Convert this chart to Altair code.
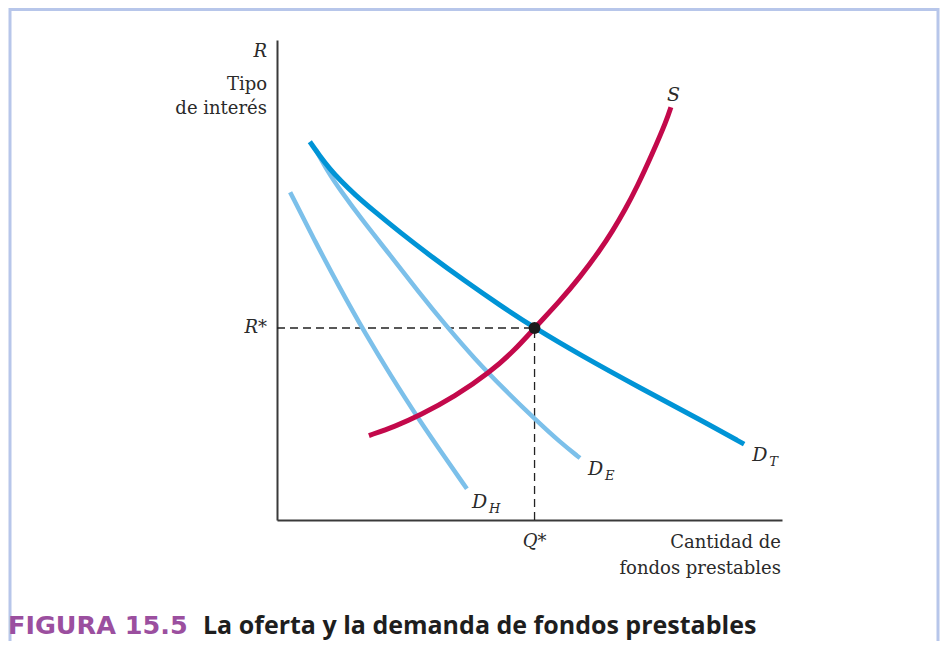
import altair as alt
import pandas as pd

# ---- data, Q and R in 0..100 units ----
Q_STAR = 51.0
R_STAR = 40.0

dt_q = [6.5, 8.5, 10.5, 12.5, 15.4, 19.4, 24.4, 30.3, 37.2, 44.2, 51.0, 60.0, 71.9, 83.8, 92.5]
dt_r = [78.8, 75.8, 73.1, 70.8, 67.8, 64.2, 59.9, 55.1, 49.8, 44.7, 40.0, 34.4, 27.5, 20.9, 15.8]

de_q = [7.7, 10.1, 12.5, 17.0, 22.4, 27.9, 33.7, 39.2, 45.1, 51.1, 56.0, 60.0]
de_r = [77.1, 72.5, 68.75, 62.3, 55.2, 47.7, 40.2, 33.5, 27.1, 21.0, 16.25, 12.9]

dh_q = [2.6, 7.5, 12.5, 17.4, 22.4, 28.3, 33.3, 37.6]
dh_r = [68.3, 58.1, 48.2, 39.0, 30.3, 20.6, 13.0, 6.5]

s_q = [18.2, 23.4, 28.3, 35.2, 42.2, 47.1, 51.0, 56.0, 60.0, 64.0, 66.5, 68.9, 71.3, 74.3, 77.2, 78.0]
s_r = [17.6, 19.5, 21.8, 25.7, 30.8, 35.4, 40.0, 45.6, 50.6, 56.25, 60.3, 64.6, 69.4, 76.25, 83.4, 86.0]

SERIF = "DejaVu Serif"
SANS = "Open Sans"
INK = "#2a2a2a"

xs = alt.Scale(domain=[0, 100], nice=False, zero=False)
ys = alt.Scale(domain=[0, 100], nice=False, zero=False)
axis = alt.Axis(ticks=False, labels=False, grid=False, title=None,
                domainColor="#3a3a3a", domainWidth=2)


def X(f):
    return alt.X(f, scale=xs, axis=axis)


def Y(f):
    return alt.Y(f, scale=ys, axis=axis)


def curve(q, r, color, width):
    df = pd.DataFrame({"q": q, "r": r})
    return alt.Chart(df).mark_line(
        color=color, strokeWidth=width, interpolate="basis", strokeCap="butt"
    ).encode(x=X("q:Q"), y=Y("r:Q"))


one = pd.DataFrame({"q0": [0.0], "r0": [0.0], "q": [Q_STAR], "r": [R_STAR]})


def text_at(txt, x, y, size=18, italic=False, align="right", baseline="middle",
            font=SERIF, color=INK, weight="normal"):
    return alt.Chart(one).mark_text(
        text=txt, font=font, fontSize=size, align=align, baseline=baseline,
        fontStyle="italic" if italic else "normal", color=color, fontWeight=weight,
    ).encode(x=alt.value(x), y=alt.value(y))


def end_label(q, r, main, sub, dx, dy):
    df = pd.DataFrame({"q": [q[-1]], "r": [r[-1]]})
    base = alt.Chart(df).encode(x=X("q:Q"), y=Y("r:Q"))
    layers = [base.mark_text(text=main, font=SERIF, fontSize=19, fontStyle="italic",
                             align="left", baseline="middle", dx=dx, dy=dy, color=INK)]
    if sub:
        layers.append(base.mark_text(text=sub, font=SERIF, fontSize=13, fontStyle="italic",
                                     align="left", baseline="middle", dx=dx + 17, dy=dy + 7,
                                     color=INK))
    return layers


base_pt = alt.Chart(one).encode(x=X("q:Q"), y=Y("r:Q"))

h_dash = alt.Chart(one).mark_rule(color="#222222", strokeWidth=1.3, strokeDash=[8, 5]).encode(
    x=X("q0:Q"), x2="q:Q", y=Y("r:Q"))
v_dash = alt.Chart(one).mark_rule(color="#222222", strokeWidth=1.3, strokeDash=[8, 5]).encode(
    y=Y("r0:Q"), y2="r:Q", x=X("q:Q"))

border = alt.Chart(one).mark_rect(filled=False, stroke="#b7c6ea", strokeWidth=3).encode(
    x=alt.value(-267), x2=alt.value(661), y=alt.value(-30.5), y2=alt.value(700))

rstar = alt.Chart(one).mark_text(text="R*", font=SERIF, fontSize=18, fontStyle="italic",
                                 align="right", baseline="middle", color=INK).encode(
    x=alt.value(-10), y=Y("r:Q"))
qstar = alt.Chart(one).mark_text(text="Q*", font=SERIF, fontSize=18, fontStyle="italic",
                                 align="center", baseline="middle", color=INK).encode(
    x=X("q:Q"), y=alt.value(502))

point = base_pt.mark_circle(size=140, color="#1c1c1c", opacity=1)

layers = [
    border,
    h_dash, v_dash,
    curve(dh_q, dh_r, "#7cc0ea", 4.5),
    curve(de_q, de_r, "#7cc0ea", 4.5),
    curve(dt_q, dt_r, "#0094d6", 5),
    curve(s_q, s_r, "#c3094b", 5),
    point,
    rstar, qstar,
    text_at("R", -10, 12, italic=True),
    text_at("Tipo", -10, 45),
    text_at("de interés", -10, 69),
    text_at("Cantidad de", 504, 503),
    text_at("fondos prestables", 504, 529),
    text_at("FIGURA 15.5", -269, 594, size=25.5, align="left", baseline="alphabetic",
            font="DejaVu Sans", color="#9b4f9f", weight="bold"),
    text_at("La oferta y la demanda de fondos prestables", -74, 594, size=25, align="left",
            baseline="alphabetic", font=SANS, color="#1e1e1e", weight="bold"),
]
layers += end_label(s_q, s_r, "S", None, -4, -12)
layers += end_label(dt_q, dt_r, "D", "T", 8, 11)
layers += end_label(de_q, de_r, "D", "E", 8, 11)
layers += end_label(dh_q, dh_r, "D", "H", 5, 13)

chart = alt.layer(*layers).properties(
    width=505, height=480,
    background="white",
    autosize=alt.AutoSizeParams(type="none"),
    padding={"left": 269, "top": 32, "right": 158, "bottom": 121},
).configure_view(stroke=None)

chart.save("out.html", embed_options={"renderer": "svg", "actions": False})
